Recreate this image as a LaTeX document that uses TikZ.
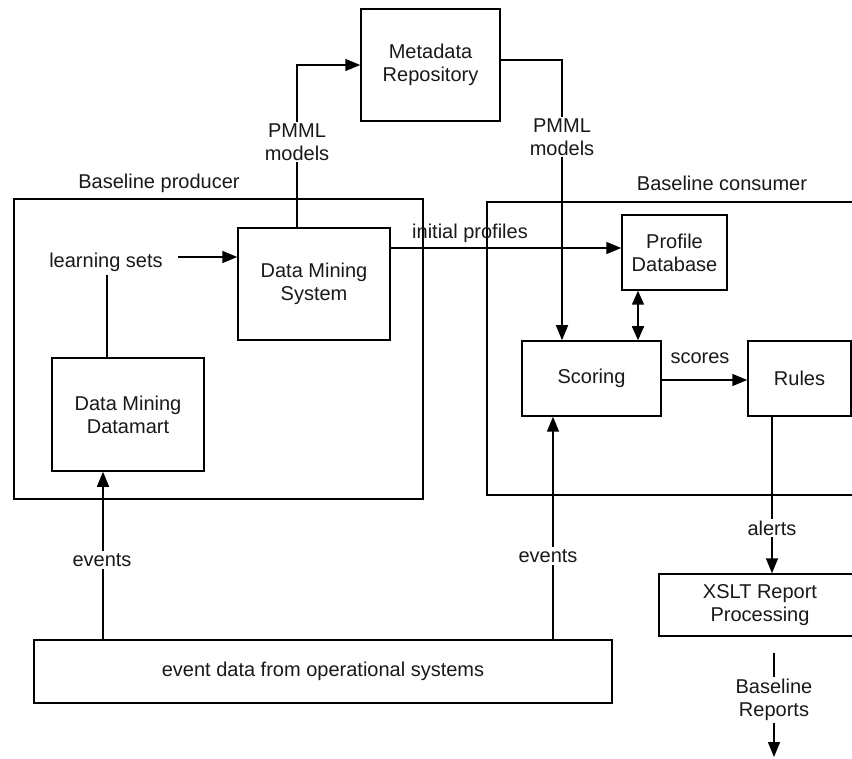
\documentclass[tikz,border=0pt]{standalone}
\usepackage{fontspec}
\setmainfont{Liberation Sans}
\usetikzlibrary{arrows.meta,calc}
\begin{document}
\begin{tikzpicture}[x=1pt,y=-1pt,
  every node/.style={font=\fontsize{20}{23}\selectfont, text=black!90},
  box/.style={draw, line width=1.5pt, inner sep=0pt, align=center},
  frame/.style={draw, line width=1.5pt, inner sep=0pt},
  lab/.style={fill=white, inner sep=2pt, align=center},
  conn/.style={line width=1.5pt},
  arr/.style={line width=1.5pt, -{Triangle[length=15pt,width=12pt]}},
  darr/.style={line width=1.5pt, {Triangle[length=14pt,width=12pt]}-{Triangle[length=14pt,width=12pt]}}
]
\useasboundingbox (0,0) rectangle (852,759);
\clip (0,0) rectangle (852,759);
\fill[white] (0,0) rectangle (852,759);

% containers
\node[frame, minimum width=409pt, minimum height=300pt] (prod) at (218.5,349) {};
\node[frame, minimum width=413pt, minimum height=293pt] (cons) at (693.5,348.5) {};
\node (prodlab) at (159,183) {Baseline producer};
\node (conslab) at (722,183) {Baseline consumer};

% boxes
\node[box, minimum width=139pt, minimum height=112pt] (meta) at (430.5,65) {Metadata\\Repository};
\node[box, minimum width=152pt, minimum height=112pt] (dms) at (314,284) {Data Mining\\System};
\node[box, minimum width=152pt, minimum height=113pt] (dm) at (128,414.5) {Data Mining\\Datamart};
\node[box, minimum width=105pt, minimum height=75pt] (pdb) at (674.5,252.5) {Profile\\Database};
\node[box, minimum width=139pt, minimum height=75pt] (sc) at (591.5,378.5) {Scoring};
\node[box, minimum width=103pt, minimum height=75pt] (rules) at (799.5,378.5) {Rules};
\node[box, minimum width=202pt, minimum height=62pt] (xslt) at (760,605) {XSLT Report\\Processing};
\node[box, minimum width=578pt, minimum height=63pt] (evt) at (323,671.5) {event data from operational systems};
\node (ls) at (106,262) {learning sets};

% connectors
\draw[arr] ([xshift=-17pt]dms.north) |- (meta.west);
\node[lab] (pm1) at (297,142) {PMML\\models};

\draw[arr] ([yshift=5pt]meta.east) -| ([xshift=-29.5pt]sc.north);
\node[lab] (pm2) at (562,137) {PMML\\models};

\draw[arr] ([yshift=36pt]dms.east) coordinate (ip) -- (ip -| pdb.west);
\node[anchor=south] (iplab) at (470,246) {initial profiles};

\draw[darr] ([xshift=-36.5pt]pdb.south) -- ([xshift=-36.5pt]pdb.south |- sc.north);

\draw[arr] ([yshift=-1.5pt]sc.east) -- ([yshift=-1.5pt]sc.east -| rules.west);
\node (sclab) at (700,358) {scores};

\draw[arr] ([xshift=-27.5pt]rules.south) -- ([xshift=-27.5pt]rules.south |- xslt.north);
\node[lab] (allab) at (772,528) {alerts};

\coordinate (br1) at (774,653);
\coordinate (br2) at (774,757);
\draw[arr] (br1) -- (br2);
\node[lab] (brlab) at (774,700) {Baseline\\Reports};

\draw[arr] ([xshift=-25pt]dm.south |- evt.north) -- ([xshift=-25pt]dm.south);
\node[lab] (ev1) at (102,560) {events};

\draw[arr] ([xshift=-38.5pt]sc.south |- evt.north) -- ([xshift=-38.5pt]sc.south);
\node[lab] (ev2) at (548,556) {events};

\draw[arr] ([xshift=12pt,yshift=5pt]ls.east) coordinate (lsa) -- (lsa -| dms.west);
\draw[conn] ([xshift=1pt]ls.south) coordinate (lsb) -- (lsb |- dm.north);
\end{tikzpicture}
\end{document}
